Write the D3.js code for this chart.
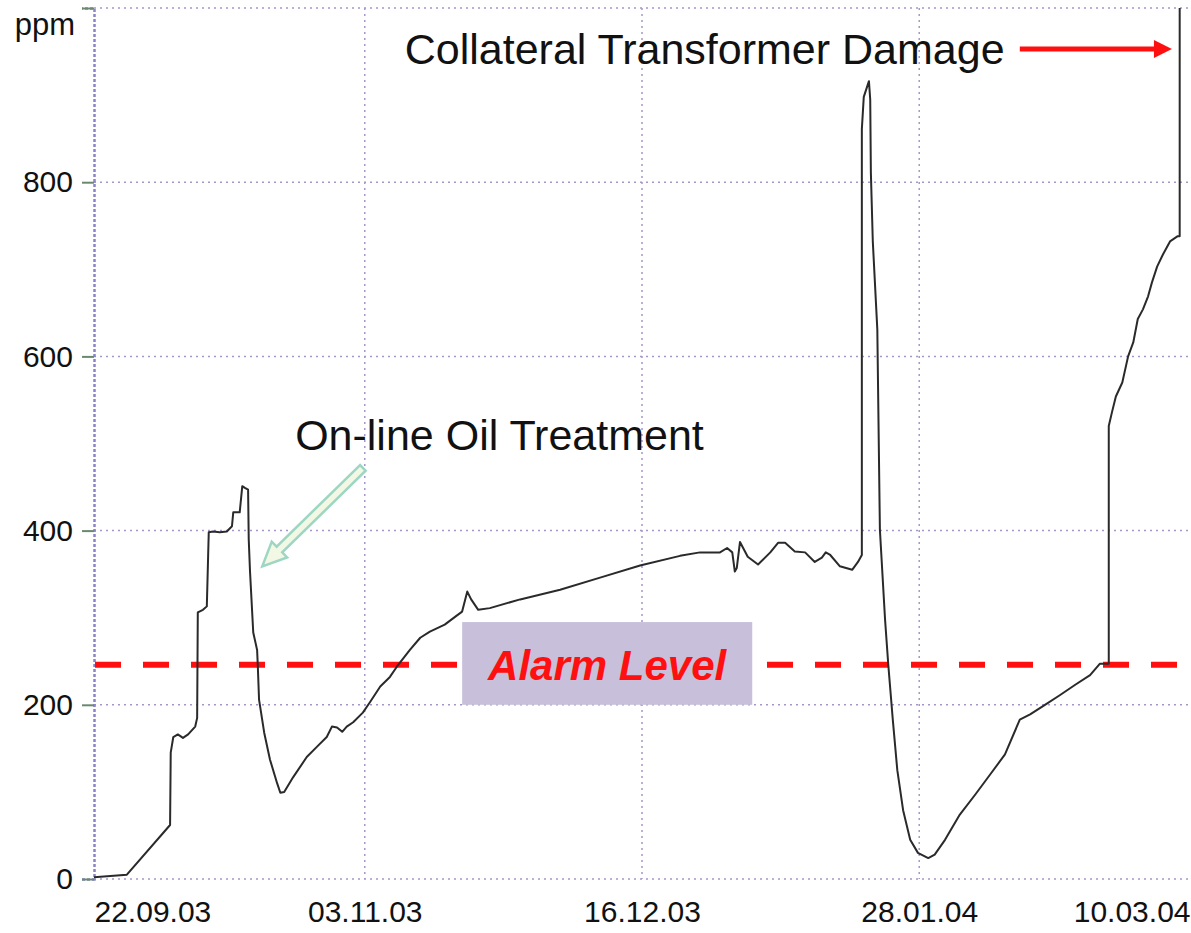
<!DOCTYPE html>
<html>
<head>
<meta charset="utf-8">
<script src="https://cdn.jsdelivr.net/npm/d3@7"></script>
<style>
    body { margin: 0; background: #fff; }
    text { font-family: "Liberation Sans", Arial, sans-serif; }
</style>
</head>
<body>
<div id="chart"></div>
<script>
// start of the record, all x values are days after this date
const startDate = new Date(2003, 8, 22);

const days = [0, 5.1, 11.8, 11.9, 12.3, 13.0, 13.8, 14.6, 15.7, 16.0, 16.1, 16.9, 17.5, 17.7, 17.8,
    18.5, 19.5, 20.6, 21.4, 21.6, 22.6, 23.0, 23.4, 23.9, 24.0, 24.2, 24.7, 25.3, 25.4, 25.6,
    26.4, 27.3, 28.4, 28.9, 29.5, 30.9, 33.0, 34.6, 36.1, 36.9, 37.7, 38.5, 39.2, 40.2, 41.7,
    42.8, 44.4, 45.9, 47.0, 49.0, 50.6, 52.1, 54.4, 56.0, 57.1, 57.9, 58.5, 59.6, 61.4, 66.1,
    72.3, 78.5, 84.7, 90.9, 94.0, 97.1, 98.2, 99.0, 99.4, 99.7, 100.2, 101.4, 103.0, 104.9, 106.1,
    107.2, 108.7, 110.3, 111.8, 112.9, 113.5, 114.2, 115.7, 117.6, 118.5, 119.1, 119.1, 119.4, 120.2, 120.4,
    120.5, 120.8, 121.5, 121.9, 122.7, 123.2, 123.9, 124.6, 125.5, 126.6, 127.8, 129.4, 130.4, 132.0, 134.3,
    136.7, 139.0, 141.3, 143.6, 145.2, 147.5, 149.8, 152.2, 154.5, 156.0, 157.4, 157.4, 157.9, 158.5, 159.5,
    160.4, 161.2, 161.9, 162.7, 163.5, 164.1, 164.9, 165.8, 166.9, 168.1, 168.4, 168.4];

const ppm = [2, 5, 62, 145, 163, 166, 162, 166, 175, 185, 306, 309, 313, 370, 398,
    399, 398, 399, 405, 421, 421, 451, 449, 447, 390, 353, 283, 263, 246, 206,
    168, 137, 110, 99, 100, 117, 140, 152, 163, 175, 174, 169, 175, 180, 191,
    203, 221, 232, 244, 263, 277, 284, 292, 301, 307, 330, 321, 309, 311, 321,
    332, 346, 360, 371, 375, 375, 380, 375, 353, 357, 387, 370, 361, 375, 386,
    386, 376, 375, 364, 369, 375, 372, 359, 355, 364, 372, 861, 898, 916, 895,
    811, 732, 631, 401, 298, 246, 183, 125, 79, 45, 30, 24, 28, 45, 74,
    97, 120, 143, 183, 189, 200, 211, 223, 234, 247, 247, 520, 536, 554, 570,
    600, 616, 643, 654, 669, 685, 703, 717, 732, 738, 738, 1000];

const alarmLevel = 246;
const dateTicks = ["22.09.03", "03.11.03", "16.12.03", "28.01.04", "10.03.04"];
const ppmTicks = [0, 200, 400, 600, 800, 1000];

const parseDate = d3.timeParse("%d.%m.%y");
const dayToDate = d => new Date(startDate.getTime() + d * 86400000);

let data = days.map((d, i) => ({ date: dayToDate(d), value: ppm[i] }));

let margin = { top: 8, right: 1, bottom: 54, left: 94 };
let width = 1191 - margin.left - margin.right;
let height = 933 - margin.top - margin.bottom;

let svg = d3.select("#chart").append("svg")
    .attr("width", 1191)
    .attr("height", 933)
    .append("g")
    .attr("transform", "translate(" + margin.left + "," + margin.top + ")");

let x = d3.scaleTime()
    .domain([parseDate(dateTicks[0]), parseDate(dateTicks[dateTicks.length - 1])])
    .range([0, 1096]);

let y = d3.scaleLinear()
    .domain([0, 1000])
    .range([height, 0]);

const gridColor = "#a796c8";

// horizontal grid
svg.append("g").selectAll("line")
    .data(ppmTicks)
    .enter().append("line")
    .attr("x1", 0).attr("x2", width)
    .attr("y1", d => y(d)).attr("y2", d => y(d))
    .attr("stroke", gridColor)
    .attr("stroke-width", 1.5)
    .attr("stroke-dasharray", "2,4");

// vertical grid
svg.append("g").selectAll("line")
    .data(dateTicks.slice(1, -1))
    .enter().append("line")
    .attr("x1", d => x(parseDate(d))).attr("x2", d => x(parseDate(d)))
    .attr("y1", 0).attr("y2", height)
    .attr("stroke", gridColor)
    .attr("stroke-width", 1.5)
    .attr("stroke-dasharray", "2,4");

// y axis
let yAxis = d3.axisLeft(y)
    .tickValues(ppmTicks)
    .tickSize(12)
    .tickPadding(9)
    .tickFormat(d => d === 1000 ? "" : d);

let yG = svg.append("g").call(yAxis);
yG.select(".domain").attr("stroke", "#8a84c8").attr("stroke-width", 2.5).attr("stroke-dasharray", "3,2");
yG.selectAll(".tick line").attr("stroke", "#6a8a70").attr("stroke-width", 2);
yG.selectAll(".tick text")
    .attr("font-size", 30)
    .attr("fill", "#111")
    .attr("font-family", "Liberation Sans, Arial, sans-serif");

svg.append("text")
    .attr("x", -19)
    .attr("y", 27)
    .attr("text-anchor", "end")
    .attr("font-size", 31)
    .attr("fill", "#111")
    .text("ppm");

// x axis labels
let xG = svg.append("g")
    .attr("transform", "translate(0," + height + ")")
    .call(d3.axisBottom(x)
        .tickValues(dateTicks.map(parseDate))
        .tickSize(0)
        .tickPadding(22)
        .tickFormat(d3.timeFormat("%d.%m.%y")));
xG.select(".domain").remove();
xG.selectAll(".tick text")
    .attr("font-size", 30)
    .attr("fill", "#111")
    .attr("font-family", "Liberation Sans, Arial, sans-serif")
    .attr("text-anchor", (d, i) => i === 0 ? "start" : (i === dateTicks.length - 1 ? "end" : "middle"));

// alarm level
svg.append("line")
    .attr("x1", 1).attr("x2", width)
    .attr("y1", y(alarmLevel)).attr("y2", y(alarmLevel))
    .attr("stroke", "#ff1010")
    .attr("stroke-width", 6)
    .attr("stroke-dasharray", "26,22");

// ppm line
let line = d3.line()
    .x(d => x(d.date))
    .y(d => y(d.value));

svg.append("path")
    .datum(data)
    .attr("fill", "none")
    .attr("stroke", "#2a2a2a")
    .attr("stroke-width", 2)
    .attr("stroke-linejoin", "round")
    .attr("d", line);

// alarm label box
svg.append("rect")
    .attr("x", x(dayToDate(57.1)))
    .attr("y", y(295))
    .attr("width", x(dayToDate(102.1)) - x(dayToDate(57.1)))
    .attr("height", y(200) - y(295))
    .attr("fill", "#c8c0da");

svg.append("text")
    .attr("x", x(dayToDate(79.6)))
    .attr("y", y(229))
    .attr("text-anchor", "middle")
    .attr("font-size", 42)
    .attr("font-weight", "bold")
    .attr("font-style", "italic")
    .attr("fill", "#ff1010")
    .text("Alarm Level");

// annotations
function arrowPoints(p0, p1, w, hw, hl) {
    let dx = p1[0] - p0[0], dy = p1[1] - p0[1];
    let len = Math.sqrt(dx * dx + dy * dy);
    let ux = dx / len, uy = dy / len;
    let nx = -uy, ny = ux;
    let neck = [p1[0] - ux * hl, p1[1] - uy * hl];
    return [
        [p0[0] + nx * w, p0[1] + ny * w],
        [neck[0] + nx * w, neck[1] + ny * w],
        [neck[0] + nx * hw, neck[1] + ny * hw],
        p1,
        [neck[0] - nx * hw, neck[1] - ny * hw],
        [neck[0] - nx * w, neck[1] - ny * w],
        [p0[0] - nx * w, p0[1] - ny * w]
    ];
}

svg.append("text")
    .attr("x", x(dayToDate(31.2)))
    .attr("y", y(493))
    .attr("font-size", 43)
    .attr("fill", "#111")
    .text("On-line Oil Treatment");

let oilArrow = arrowPoints([x(dayToDate(41.7)), y(472)], [x(dayToDate(26.1)), y(359)], 4, 11, 24);
svg.append("polygon")
    .attr("points", oilArrow.map(p => p.join(",")).join(" "))
    .attr("fill", "#f2f8e4")
    .attr("stroke", "#9ed6c4")
    .attr("stroke-width", 2.5);

svg.append("text")
    .attr("x", x(dayToDate(48.2)))
    .attr("y", y(936))
    .attr("font-size", 43)
    .attr("fill", "#111")
    .text("Collateral Transformer Damage");

let damageArrow = arrowPoints([x(dayToDate(143.6)), y(953)], [x(dayToDate(167.2)), y(953)], 2.5, 9, 18);
svg.append("polygon")
    .attr("points", damageArrow.map(p => p.join(",")).join(" "))
    .attr("fill", "#ff1010");
</script>
</body>
</html>
